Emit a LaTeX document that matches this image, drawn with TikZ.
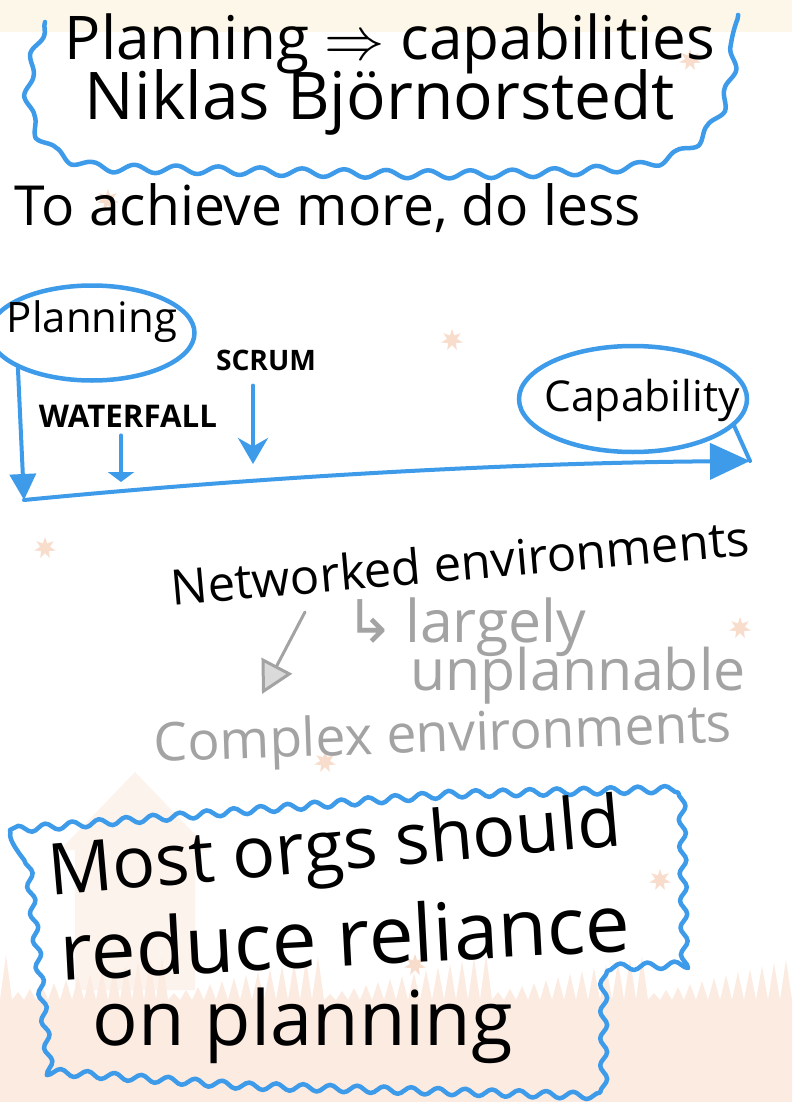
\documentclass[tikz,border=0pt]{standalone}
\usepackage{fontspec}
\usepackage{graphicx}
\setmainfont{Open Sans}
\newfontfamily\symbfont{DejaVu Sans}
\usetikzlibrary{decorations.pathmorphing, arrows.meta, shapes.geometric}
\definecolor{sky}{HTML}{3D9BE9}
\definecolor{pencil}{HTML}{A3A3A3}
\definecolor{peach}{HTML}{FCEBE1}
\definecolor{cream}{HTML}{FCF7E8}
\definecolor{leaf}{HTML}{F9DDCC}
\newcommand\fitw[2]{\resizebox{#1pt}{!}{#2}}
\tikzset{
  ink/.style={inner sep=0pt, text=black},
  grey/.style={inner sep=0pt, text=pencil},
  caps/.style={inner sep=0pt, text=black, font=\bfseries},
  cloud/.style={draw=sky, line width=4.5pt, line cap=round, line join=round},
  blueline/.style={draw=sky, line width=4pt, line cap=round},
  bubble/.style={draw=sky, line width=4.5pt, ellipse, inner sep=0pt},
  greyline/.style={draw=pencil, line width=3pt, line cap=round},
  mleaf/.style={star, star points=7, star point ratio=2.2, fill=leaf, inner sep=0pt, minimum size=22pt}
}
\begin{document}
\begin{tikzpicture}[x=1pt,y=-1pt]
\useasboundingbox (0,0) rectangle (792,1102);
% background
\fill[white] (0,0) rectangle (792,1102);
\fill[cream] (0,0) rectangle (792,32);
\fill[peach!60] (60,850) -- (135,772) -- (210,850) -- (195,850) -- (195,990) -- (75,990) -- (75,850) -- cycle;
\fill[peach] (0,1102) -- (0,1000)
  \foreach \i in {0,...,65} { -- ({\i*12+6},{955+mod(\i*37,40)}) -- ({\i*12+12},1000) } -- (792,1102) -- cycle;
\foreach \p in {(690,60),(108,200),(452,340),(45,548),(740,628),(325,762),(415,965),(660,880)}
  \node[mleaf] at \p {};
% title cloud
\draw[cloud, decorate, decoration={snake, amplitude=4pt, segment length=42pt}]
  (45,22) .. controls (20,90) and (25,150) .. (110,158)
  .. controls (300,160) and (500,172) .. (650,155)
  .. controls (720,140) and (740,90) .. (738,15);
\node[ink] (t1) at (390,44) {\fitw{650}{Planning $\Rightarrow$ capabilities}};
\node[ink] (t2) at (380,102) {\fitw{590}{Niklas Björnorstedt}};
% headline
\node[ink] (head) at (328,208) {\fitw{626}{To achieve more, do less}};
% planning -> capability diagram
\node[bubble, minimum width=205pt, minimum height=95pt] (pe) at (92,333) {};
\node[ink] (pl) at (92,322) {\fitw{170}{Planning}};
\node[bubble, minimum width=228pt, minimum height=106pt] (ce) at (633,399) {};
\node[ink] (cl) at (642,400) {\fitw{195}{Capability}};
\coordinate (lc) at (24,500);
\coordinate (rc) at (750,461);
\draw[blueline, -{Triangle[length=26pt,width=26pt]}] (pe.south west) -- (lc);
\draw[blueline, -{Triangle[length=40pt,width=36pt]}] (lc) .. controls (250,478) and (500,463) .. (rc);
\draw[blueline] (ce.-15) -- (rc);
\node[caps] (wf) at (128,416) {\fitw{178}{WATERFALL}};
\node[caps] (sc) at (266,360) {\fitw{100}{SCRUM}};
\coordinate (wft) at (121,482);
\coordinate (sct) at (253,464);
\draw[blueline, -{Triangle[length=10pt,width=26pt]}] (wf.south -| wft) ++(0,8) -- (wft);
\draw[blueline, -{Stealth[length=26pt,width=30pt]}] (sc.south -| sct) ++(0,15) -- (sct);
% environments
\node[ink, rotate=5] (ne) at (460,562) {\fitw{580}{Networked environments}};
\node[grey] (lg) at (466,627) {\fitw{240}{{\symbfont ↳}\,largely}};
\node[grey] (un) at (578,676) {\fitw{335}{unplannable}};
\node[grey, rotate=2] (cx) at (443,738) {\fitw{578}{Complex environments}};
\coordinate (ga1) at (305,612);
\coordinate (ga2) at (262,694);
\draw[greyline, -{Triangle[length=32pt,width=34pt,fill=pencil!40]}] (ga1) -- (ga2);
% bottom cloud
\draw[cloud, decorate, decoration={snake, amplitude=3.5pt, segment length=27pt}]
  (10,830) -- (230,812) -- (440,795) -- (665,790) -- (668,976) -- (585,979)
  -- (585,1092) -- (230,1082) -- (35,1068) -- cycle;
\node[ink, rotate=5] (m1) at (335,852) {\fitw{575}{Most orgs should}};
\node[ink, rotate=3] (m2) at (345,936) {\fitw{570}{reduce reliance}};
\node[ink] (m3) at (303,1026) {\fitw{420}{on planning}};
\end{tikzpicture}
\end{document}
